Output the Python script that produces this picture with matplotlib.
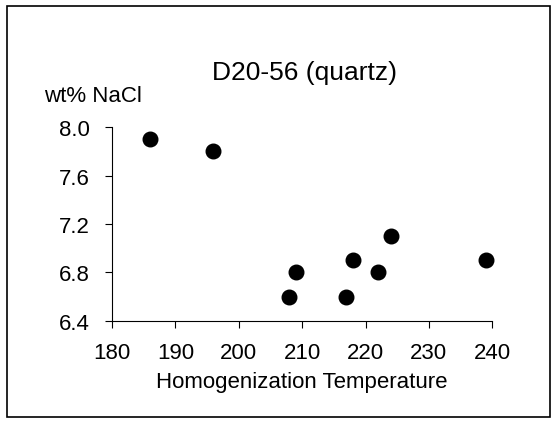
import matplotlib.pyplot as plt
from matplotlib.patches import Rectangle

plt.rcParams['font.family'] = ['Liberation Sans', 'DejaVu Sans']

temperature = [186, 196, 208, 209, 217, 218, 222, 224, 239]
salinity = [7.9, 7.8, 6.6, 6.8, 6.6, 6.9, 6.8, 7.1, 6.9]
x_ticks = [180, 190, 200, 210, 220, 230, 240]
y_ticks = [6.4, 6.8, 7.2, 7.6, 8.0]

fig = plt.figure(figsize=(5.56, 4.27), dpi=100)
ax = fig.add_axes([0.2014, 0.246, 0.684, 0.454])

ax.scatter(temperature, salinity, s=110, color='black', zorder=3, clip_on=False)

ax.set_xlim(180, 240)
ax.set_ylim(6.4, 8.0)
ax.set_xticks(x_ticks)
ax.set_yticks(y_ticks)
ax.set_yticklabels(['%.1f' % v for v in y_ticks])
ax.tick_params(axis='both', labelsize=16, length=5, width=0.8, direction='out')
ax.tick_params(axis='x', pad=10)
ax.tick_params(axis='y', pad=11)
for side in ['top', 'right']:
    ax.spines[side].set_visible(False)
for side in ['left', 'bottom']:
    ax.spines[side].set_linewidth(0.8)

ax.set_xlabel('Homogenization Temperature', fontsize=16, labelpad=6)
fig.text(0.547, 0.828, 'D20-56 (quartz)', fontsize=19, ha='center', va='center')
fig.text(0.079, 0.774, 'wt% NaCl', fontsize=16, ha='left', va='center')

# frame around the whole chart
fig.patches.append(Rectangle((7 / 556, 9 / 427), 543 / 556, 411 / 427,
                             transform=fig.transFigure, fill=False,
                             edgecolor='black', linewidth=1.2))

fig.savefig('out.png', dpi=100)
